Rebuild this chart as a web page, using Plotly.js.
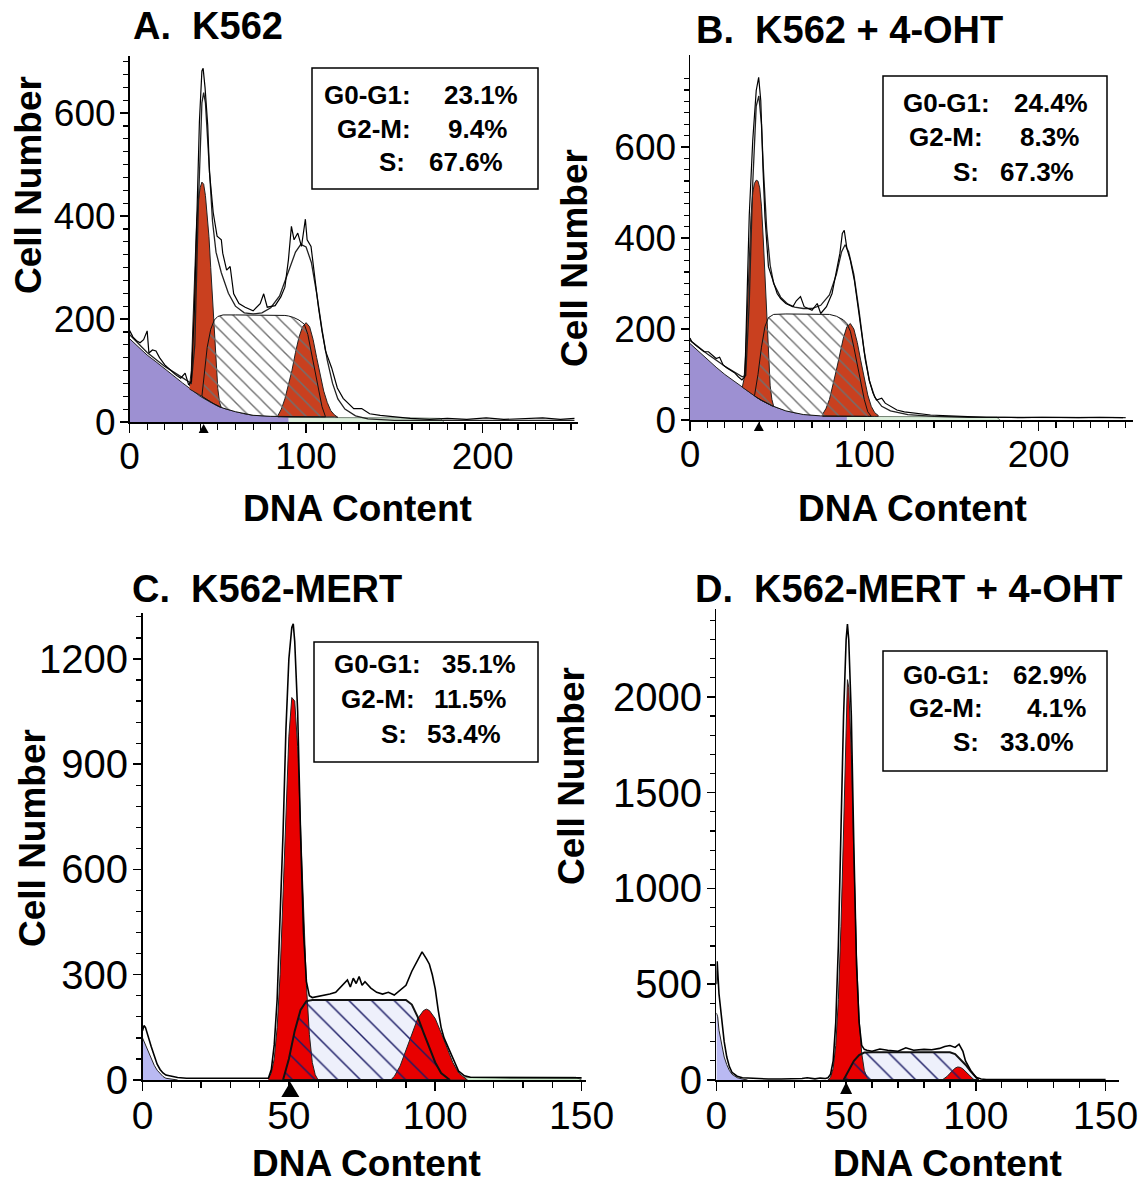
<!DOCTYPE html>
<html>
<head>
<meta charset="utf-8">
<script src="https://cdn.plot.ly/plotly-3.0.1.min.js"></script>
<style>html,body{margin:0;padding:0;background:#fff}#chart{width:1144px;height:1186px}</style>
</head>
<body>
<div id="chart"></div>
<script>
// ---------------- Panel A: K562 ----------------
const rawA_ch = [0,2,4,6,8,10,11,13,15,17,20,23,26,29,31.5,33.5,35,36.8,38.3,39.6,41,41.7,42.8,44.3,45.3,47.4,49.6,52,52.8,55,57,59,62,65.5,70,74,76,78,82.5,85.7,88,90,91.7,93.2,95.3,97.4,99.6,100.6,102.8,105,107,109,111,114.5,117.7,121,124,127,131.5,136,142,150,159,170,180,191,202,212,223,234,244,252];
const rawA_y  = [178,165,158,154,160,177,134,140,138,125,111,102,92,85,95,72,79,223,420,584,682,687,649,577,485,407,361,354,328,295,302,249,230,223,216,230,249,223,226,243,262,315,380,354,367,341,394,354,341,275,223,177,138,105,66,46,36,26,26,16,13,10,7,5,7,5,8,5,7,8,5,7];
const fitA_ch = [0,10,20,30,35,37,39,41,42,43,45,47,49,52,56,60,65,70,75,80,85,90,94,97,100,103,106,109,112,115,118,122,128,135,150,252];
const fitA_y  = [170,135,108,85,75,150,420,620,640,620,500,390,330,290,250,225,212,210,212,222,245,290,330,345,340,310,250,180,120,75,45,25,12,6,3,3];
const debrisA_ch = [0,5,10,15,20,25,30,35,40,45,50,55,60,65,70,80,90];
const debrisA_y  = [162,145,130,117,103,90,76,63,50,40,31,25,20,16,13,11,10];
const aggA_ch = [42,45,80,120,160,176,178];
const aggA_y  = [0,9,9,9,8,7,0];
const g1A_ch   = [34,35,36,37,38,39,40,41,42,43,44,45,46,47,48,49,50,51,52];
const g1A_top  = [70,100,200,320,390,430,455,466,462,440,400,360,300,240,170,110,65,38,28];
const g1A_base = [64,63,61,59,57,55,52,50,47,45,42,40,38,36,34,32,31,29,28];
const sA_ch   = [41,42.5,44,46,48,50,53,60,70,80,88,90,93,96,99,101,103,105,107,109,111];
const sA_top  = [50,100,145,180,198,205,208,208,208,208,207,206,203,198,190,170,135,95,60,30,10];
const sA_base = [50,47,43,39,35,31,27,20,13,11,10,10,10,10,10,10,10,10,10,10,10];
const g2A_ch   = [84,86,88,90,92,94,96,98,100,102,104,106,108,110,112,114,116,118];
const g2A_top  = [12,25,45,70,100,135,165,185,193,185,160,125,90,60,38,22,14,10];
const g2A_base = [10,10,10,10,10,10,10,10,10,10,10,10,10,10,10,10,10,9];
const markA = 42;
const statsA = ["23.1%", "9.4%", "67.6%"];

// ---------------- Panel B: K562 + 4-OHT ----------------
const rawB_ch = [0,1,3,6,8,10.6,13,15,17,19,21,23.4,25.5,27.7,29.8,31.5,32.5,34,36,38,39.4,40.6,42,43,45,47.9,50,52,55,59,61,63.4,65.5,70,73,75,78.3,81.5,83.6,86,87.4,88.5,90,92,94.3,96.4,98.5,100.6,102.8,105,107,110,112,115.5,118.7,123,129,138,148.5,159,170,180,191,202,212,223,235,248.5];
const rawB_y  = [180,172,165,157,150,150,142,135,138,121,115,110,104,95,88,95,250,450,614,724,753,702,541,446,337,300,278,267,256,249,262,271,249,241,256,234,249,278,322,366,410,417,377,351,307,249,190,132,88,59,44,48,37,29,22,18,15,11,9,7,6,6,5,6,5,5,6,5];
const fitB_ch = [0,10,20,30,32,34,36,38,39.5,41,42,44,46,48,52,56,60,65,70,75,80,84,87,89,91,94,97,100,103,106,110,115,125,140,160,250];
const fitB_y  = [175,145,118,95,98,260,520,690,712,650,560,420,340,300,270,255,248,245,245,252,275,320,370,385,370,320,240,150,85,50,30,20,12,8,6,5];
const debrisB_ch = [0,5,10,15,20,25,30,35,40,45,50,55,60,70,80,90];
const debrisB_y  = [168,150,133,116,100,86,72,58,45,35,27,21,16,11,9,8];
const aggB_ch = [40,42,80,120,160,176,178];
const aggB_y  = [0,8,8,8,7,6,0];
const g1B_ch   = [30,31,32,33,34,35,36,37,38,39,40,41,42,43,44,45,46,47,48];
const g1B_top  = [72,90,150,260,370,450,500,520,527,525,510,470,400,310,230,140,75,45,32];
const g1B_base = [72,69,66,63,61,58,56,53,50,48,45,43,41,39,37,35,33,31,30];
const sB_ch   = [37,39,41,43,45,48,55,65,75,80,84,88,90,92,94,96,98,100,102,104];
const sB_top  = [53,100,160,205,225,232,233,233,233,232,228,220,212,195,160,120,80,45,18,8];
const sB_base = [53,48,43,39,35,30,20,12,9,9,8,8,8,8,8,8,8,8,8,8];
const g2B_ch   = [76,78,80,82,84,86,88,90,92,94,96,98,100,102,104,106,108];
const g2B_top  = [12,25,45,75,110,145,180,205,212,200,170,130,90,55,30,16,10];
const g2B_base = [8,8,8,8,8,8,8,8,8,8,8,8,8,8,8,8,8];
const markB = 39.5;
const statsB = ["24.4%", "8.3%", "67.3%"];

// ---------------- Panel C: K562-MERT ----------------
const rawC_ch = [0,0.5,1,2,3,4,5,6,7,8,10,12,15,20,25,30,35,40,43,44,45,46,47,48,49,50,51,51.5,52,53,54,55,56,57,58,60,62,64,66,68,70,71,72,73,74,75,76,78,80,82,84,86,88,90,92,94,95.5,97,98,99,100,101,102,103,104,105,106,107,108,110,112,120,130,140,150];
const rawC_y  = [140,155,150,120,95,70,45,30,20,14,10,7,5,5,5,5,5,5,5,30,100,230,450,700,1000,1200,1290,1300,1250,1050,700,420,280,240,235,238,240,245,250,268,285,265,290,275,295,270,280,262,250,245,250,242,255,270,310,340,365,345,330,300,260,200,150,120,100,80,60,40,25,12,8,7,7,6,6];
const debrisC_ch = [0,1,2,3,4,5,6,7,8,10,12];
const debrisC_y  = [120,100,80,60,42,28,18,10,5,2,0];
const aggC_ch = [108,110,148,150];
const aggC_y  = [0,8,8,0];
const g1C_ch  = [43,44,45,46,47,48,49,50,51,52,53,54,55,56,57,58,59,60];
const g1C_top = [3,20,60,150,300,520,780,980,1090,1080,950,720,480,270,130,50,15,3];
const sC_ch  = [48,50,52,54,56,58,70,80,90,92,94,96,98,100,102,104,105];
const sC_top = [0,60,140,200,225,228,228,228,228,215,180,135,90,50,20,5,0];
const g2C_ch  = [85,86,88,90,92,94,96,97,98,100,102,104,106,108,110,111];
const g2C_top = [2,10,40,85,135,175,198,202,198,175,135,90,50,20,5,0];
const markC = 50.5;
const statsC = ["35.1%", "11.5%", "53.4%"];

// ---------------- Panel D: K562-MERT + 4-OHT ----------------
const rawD_ch = [0,0.3,1,2,3,4,5,6,8,10,15,20,25,30,33,35,38,40,42,43,44,45,46,47,48,49,50,50.5,51,52,53,54,55,56,57,58,60,63,66,70,73,76,80,83,86,88,90,92,93.5,95,96,98,100,101,102,104,110,120,130,140,150];
const rawD_y  = [500,620,450,320,200,120,70,40,20,12,8,5,5,5,8,12,6,10,8,12,30,100,300,700,1300,1900,2300,2380,2300,1900,1200,600,300,180,160,155,150,162,155,150,168,155,160,158,165,175,180,170,187,150,100,50,15,8,5,3,3,3,3,3,3];
const debrisD_ch = [0,0.5,1,2,3,4,5,6,8,10,12];
const debrisD_y  = [350,330,260,180,120,80,50,30,12,5,0];
const g1D_ch  = [43,44,45,46,47,48,49,50,50.5,51,52,53,54,55,56,57,58,59];
const g1D_top = [0,15,60,180,420,800,1300,1900,2090,2050,1700,1150,650,320,140,50,15,0];
const sD_ch  = [49,51,53,55,57,60,70,80,90,92,94,96,98,100,101];
const sD_top = [0,50,100,130,143,145,145,145,145,135,110,80,45,15,0];
const g2D_ch  = [87,88,89,90,91,92,93,94,95,96,97,98,99,100];
const g2D_top = [0,8,20,35,50,62,68,66,58,45,30,15,5,0];
const markD = 50;
const statsD = ["62.9%", "4.1%", "33.0%"];

const phaseLabels = ["G0-G1:", "G2-M:", "S:"];
const titles = ["A.  K562", "B.  K562 + 4-OHT", "C.  K562-MERT", "D.  K562-MERT + 4-OHT"];

// ---------------- helpers ----------------
const W = 1144, H = 1186;
const fx = p => p / W;
const fy = p => 1 - p / H;
const FONT = "Liberation Sans, Arial, Helvetica, sans-serif";
const zeros = a => a.map(() => 0);
function poly(ch, top, base) {
  return { x: ch.concat(ch.slice().reverse()), y: top.concat(base.slice().reverse()) };
}

const traces = [];
function addPanel(k, d, st) {
  const xa = 'x' + (k === 1 ? '' : k), ya = 'y' + (k === 1 ? '' : k);
  const base = { xaxis: xa, yaxis: ya, hoverinfo: 'skip', showlegend: false, mode: 'lines' };
  if (d.agg) traces.push(Object.assign({}, base, { x: d.agg[0], y: d.agg[1], fill: 'tozeroy', fillcolor: st.agg, line: { color: '#556655', width: 0.8 } }));
  traces.push(Object.assign({}, base, { x: d.debris[0], y: d.debris[1], fill: 'tozeroy', fillcolor: st.debris, line: { color: '#222', width: 1 } }));
  const sp = poly(d.s[0], d.s[1], d.s[2]);
  traces.push(Object.assign({}, base, { x: sp.x, y: sp.y, fill: 'toself', fillcolor: st.sbg, line: { width: 0 } }));
  const g1 = poly(d.g1[0], d.g1[1], d.g1[2]);
  traces.push(Object.assign({}, base, { x: g1.x, y: g1.y, fill: 'toself', fillcolor: st.red, line: { color: '#222', width: 1 } }));
  const g2 = poly(d.g2[0], d.g2[1], d.g2[2]);
  traces.push(Object.assign({}, base, { x: g2.x, y: g2.y, fill: 'toself', fillcolor: st.red, line: { color: '#222', width: 1 } }));
  traces.push(Object.assign({}, base, { x: sp.x, y: sp.y, fill: 'toself', fillcolor: 'rgba(0,0,0,0)',
    fillpattern: { shape: '\\', fgcolor: st.hatch, bgcolor: 'rgba(0,0,0,0)', size: st.hsize, solidity: st.hsol },
    line: { color: '#111', width: st.slw } }));
  if (d.fit) traces.push(Object.assign({}, base, { x: d.fit[0], y: d.fit[1], line: { color: '#222', width: 1.3 } }));
  traces.push(Object.assign({}, base, { x: d.raw[0], y: d.raw[1], line: { color: '#000', width: st.rawW } }));
}

const stAB = { agg: '#dcefdc', debris: '#9d90d2', sbg: '#ffffff', red: '#c9401f', hatch: '#707070', hsize: 10, hsol: 0.14, slw: 1, rawW: 1.2 };
const stCD = { agg: '#cdeccd', debris: '#b9b9f2', sbg: '#eef0fb', red: '#e80000', hatch: '#1c1c66', hsize: 16, hsol: 0.09, slw: 2, rawW: 1.6 };

addPanel(1, { raw: [rawA_ch, rawA_y], fit: [fitA_ch, fitA_y], debris: [debrisA_ch, debrisA_y], agg: [aggA_ch, aggA_y],
  g1: [g1A_ch, g1A_top, g1A_base], s: [sA_ch, sA_top, sA_base], g2: [g2A_ch, g2A_top, g2A_base] }, stAB);
addPanel(2, { raw: [rawB_ch, rawB_y], fit: [fitB_ch, fitB_y], debris: [debrisB_ch, debrisB_y], agg: [aggB_ch, aggB_y],
  g1: [g1B_ch, g1B_top, g1B_base], s: [sB_ch, sB_top, sB_base], g2: [g2B_ch, g2B_top, g2B_base] }, stAB);
addPanel(3, { raw: [rawC_ch, rawC_y], debris: [debrisC_ch, debrisC_y], agg: [aggC_ch, aggC_y],
  g1: [g1C_ch, g1C_top, zeros(g1C_ch)], s: [sC_ch, sC_top, zeros(sC_ch)], g2: [g2C_ch, g2C_top, zeros(g2C_ch)] }, stCD);
addPanel(4, { raw: [rawD_ch, rawD_y], debris: [debrisD_ch, debrisD_y],
  g1: [g1D_ch, g1D_top, zeros(g1D_ch)], s: [sD_ch, sD_top, zeros(sD_ch)], g2: [g2D_ch, g2D_top, zeros(g2D_ch)] }, stCD);

// ---------------- axes ----------------
function steps(a, b, s) { const r = []; for (let v = a; v <= b + 1e-9; v += s) r.push(v); return r; }
function xAxis(dom, range, vals, text, minorStep, anchor, fs) {
  return { domain: [fx(dom[0]), fx(dom[1])], range: range, anchor: anchor, showline: true, linecolor: '#000', linewidth: 1.5,
    ticks: 'outside', ticklen: 9, tickwidth: 1.5, tickcolor: '#000', tickmode: 'array', tickvals: vals, ticktext: text,
    minor: { ticks: 'outside', ticklen: 6, tickwidth: 1.2, tickcolor: '#000', tickmode: 'array', tickvals: steps(0, range[1], minorStep), showgrid: false },
    showgrid: false, zeroline: false, fixedrange: true, ticklabelstandoff: -8,
    tickfont: { family: FONT, size: fs, color: '#000' } };
}
function yAxis(dom, range, vals, text, minorVals, anchor, fs) {
  return { domain: [fy(dom[1]), fy(dom[0])], range: range, anchor: anchor, showline: true, linecolor: '#000', linewidth: 1.5,
    ticks: 'outside', ticklen: 8, tickwidth: 1.5, tickcolor: '#000', tickmode: 'array', tickvals: vals, ticktext: text,
    minor: { ticks: 'outside', ticklen: 5, tickwidth: 1.2, tickcolor: '#000', tickmode: 'array', tickvals: minorVals, showgrid: false },
    showgrid: false, zeroline: false, fixedrange: true, ticklabelstandoff: -3,
    tickfont: { family: FONT, size: fs, color: '#000' } };
}
const panelsPx = {
  A: { x: [129.5, 578], y: [56, 422] }, B: { x: [690, 1132.7], y: [55, 420] },
  C: { x: [142.5, 586], y: [613, 1080] }, D: { x: [716.4, 1118.6], y: [609, 1080] }
};
const layout = {
  width: W, height: H, margin: { l: 0, r: 0, t: 0, b: 0 }, paper_bgcolor: '#fff', plot_bgcolor: 'rgba(0,0,0,0)',
  showlegend: false, hovermode: false,
  xaxis:  xAxis(panelsPx.A.x, [0, 254], [0,50,100,150,200,250], ['0','','100','','200',''], 10, 'y', 37),
  yaxis:  yAxis(panelsPx.A.y, [0, 711], [0,100,200,300,400,500,600,700], ['0','','200','','400','','600',''], steps(0, 700, 25), 'x', 37),
  xaxis2: xAxis(panelsPx.B.x, [0, 254], [0,50,100,150,200,250], ['0','','100','','200',''], 10, 'y2', 37),
  yaxis2: yAxis(panelsPx.B.y, [0, 802], [0,100,200,300,400,500,600,700], ['0','','200','','400','','600',''], steps(0, 750, 25), 'x2', 37),
  xaxis3: xAxis(panelsPx.C.x, [0, 151.5], [0,50,100,150], ['0','50','100','150'], 10, 'y3', 39),
  yaxis3: yAxis(panelsPx.C.y, [0, 1331], [0,300,600,900,1200], ['0','300','600','900','1200'], steps(0, 1320, 60), 'x3', 40),
  xaxis4: xAxis(panelsPx.D.x, [0, 155], [0,50,100,150], ['0','50','100','150'], 10, 'y4', 39),
  yaxis4: yAxis(panelsPx.D.y, [0, 2459], [0,500,1000,1500,2000], ['0','500','1000','1500','2000'], steps(0, 2400, 100), 'x4', 40),
  shapes: [], annotations: []
};

// titles
const titlePos = [[131, 26], [694, 30], [130, 589], [693, 589]];
titles.forEach((t, i) => layout.annotations.push({ xref: 'paper', yref: 'paper', x: fx(titlePos[i][0]), y: fy(titlePos[i][1]),
  xanchor: 'left', yanchor: 'middle', showarrow: false, text: '<b>' + t + '</b>', font: { family: FONT, size: 38, color: '#000' } }));
// axis titles
const yTitlePos = [[28, 185], [575, 258], [32, 838], [571, 776]];
yTitlePos.forEach(p => layout.annotations.push({ xref: 'paper', yref: 'paper', x: fx(p[0]), y: fy(p[1]), xanchor: 'center', yanchor: 'middle',
  showarrow: false, textangle: -90, text: '<b>Cell Number</b>', font: { family: FONT, size: 37, color: '#000' } }));
const xTitlePos = [[357, 508], [912, 508], [366, 1163], [947, 1163]];
xTitlePos.forEach(p => layout.annotations.push({ xref: 'paper', yref: 'paper', x: fx(p[0]), y: fy(p[1]), xanchor: 'center', yanchor: 'middle',
  showarrow: false, text: '<b>DNA Content</b>', font: { family: FONT, size: 37, color: '#000' } }));

// G1 markers: black triangles just under the x axis (x in data units, size in pixels)
[[markA, 'x', panelsPx.A.y[1], 5, 11], [markB, 'x2', panelsPx.B.y[1], 5, 11], [markC, 'x3', panelsPx.C.y[1], 9, 17], [markD, 'x4', panelsPx.D.y[1], 6, 14]].forEach(m =>
  layout.shapes.push({ type: 'path', xref: m[1], yref: 'paper', xsizemode: 'pixel', ysizemode: 'pixel', xanchor: m[0], yanchor: fy(m[2]),
    path: 'M ' + (-m[3]) + ' ' + (-m[4]) + ' L ' + m[3] + ' ' + (-m[4]) + ' L 0 -2 Z', fillcolor: '#000', line: { width: 0 }, layer: 'above' }));

// statistics boxes
const boxes = [
  { r: [312, 68, 538, 189], rows: [95, 129, 162], lab: [413, 413, 407], val: [442, 446, 427], s: statsA },
  { r: [883, 76, 1107, 196], rows: [103, 137, 172], lab: [992, 985, 981], val: [1012, 1018, 998], s: statsB },
  { r: [314, 642, 538, 762], rows: [664, 699, 734], lab: [423, 417, 409], val: [440, 432, 425], s: statsC },
  { r: [883, 651, 1107, 771], rows: [675, 708, 742], lab: [992, 985, 981], val: [1011, 1025, 998], s: statsD }
];
boxes.forEach(b => {
  layout.shapes.push({ type: 'rect', xref: 'paper', yref: 'paper', x0: fx(b.r[0]), x1: fx(b.r[2]), y0: fy(b.r[3]), y1: fy(b.r[1]),
    line: { color: '#000', width: 1.5 }, fillcolor: '#fff', layer: 'above' });
  for (let i = 0; i < 3; i++) {
    layout.annotations.push({ xref: 'paper', yref: 'paper', x: fx(b.lab[i]), y: fy(b.rows[i]), xanchor: 'right', yanchor: 'middle',
      showarrow: false, text: '<b>' + phaseLabels[i] + '</b>', font: { family: FONT, size: 26, color: '#000' } });
    layout.annotations.push({ xref: 'paper', yref: 'paper', x: fx(b.val[i]), y: fy(b.rows[i]), xanchor: 'left', yanchor: 'middle',
      showarrow: false, text: '<b>' + b.s[i] + '</b>', font: { family: FONT, size: 26, color: '#000' } });
  }
});

Plotly.newPlot('chart', traces, layout, { staticPlot: true, displayModeBar: false });
</script>
</body>
</html>
